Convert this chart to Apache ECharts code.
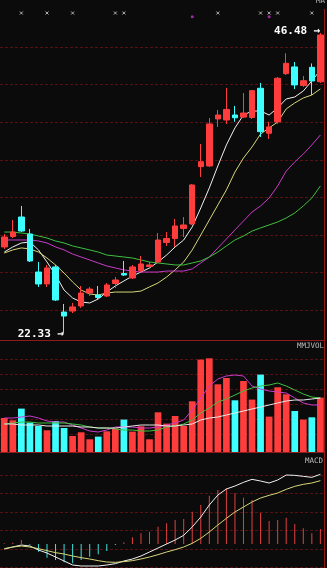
<!DOCTYPE html>
<html><head><meta charset="utf-8">
<script src="https://cdn.jsdelivr.net/npm/echarts@6/dist/echarts.min.js"></script>
<style>html,body{margin:0;padding:0;background:#0b0b0b;}#c{width:327px;height:568px;}</style>
</head><body><div id="c"></div>
<script>
const categories = ['1','2','3','4','5','6','7','8','9','10','11','12','13','14','15','16','17','18','19','20','21','22','23','24','25','26','27','28','29','30','31','32','33','34','35','36','37','38'];
// [open, close, low, high]
const ohlc = [
[29.26,30.06,29.10,30.30],[30.10,30.46,29.98,31.43],[31.67,30.54,30.46,32.56],[30.30,28.13,28.05,30.71],
[27.24,26.28,26.04,28.05],[26.28,27.57,26.04,27.81],[27.65,24.99,24.91,27.81],[24.02,23.70,22.33,24.67],
[24.10,24.43,23.94,24.75],[24.51,25.55,24.35,26.12],[25.55,25.87,25.31,26.04],[25.39,25.19,24.99,26.12],
[25.31,26.20,25.23,26.36],[26.32,26.60,25.96,26.84],[27.12,27.00,26.92,28.13],[26.76,27.65,26.68,27.81],
[27.36,27.89,27.24,28.53],[27.69,27.81,27.49,28.05],[28.05,29.82,27.97,30.38],[29.62,29.94,29.34,30.46],
[29.94,30.95,29.26,31.51],[30.75,31.03,30.06,31.67],[31.11,34.25,31.03,34.33],[35.72,36.12,34.89,37.55],
[35.78,39.16,35.70,39.64],[39.56,39.88,38.92,40.29],[39.48,40.33,39.16,42.06],[39.88,39.66,39.34,40.61],
[39.71,40.04,39.64,41.65],[39.68,41.84,39.56,41.90],[42.03,38.54,38.11,42.46],[38.41,38.92,37.95,39.34],
[39.32,42.84,39.16,42.94],[43.21,44.04,43.10,44.85],[43.75,42.30,41.97,44.15],[42.26,42.64,42.14,43.02],
[43.72,42.62,41.49,44.03],[42.56,46.32,42.46,46.48]
];
const ma5  = [28.85,29.26,29.58,29.66,29.02,28.05,27.00,25.79,25.15,24.83,24.75,25.07,25.63,26.12,26.52,26.92,27.24,27.57,28.05,28.61,29.26,29.82,30.87,32.40,34.01,35.78,37.47,38.84,39.88,40.20,40.20,39.88,40.45,41.17,41.33,41.81,42.62,43.50];
const ma10 = [28.77,29.02,29.18,29.10,28.85,28.37,27.81,27.16,26.44,25.79,25.47,25.39,25.55,25.63,25.63,25.63,25.71,26.04,26.36,26.84,27.41,28.05,29.02,30.22,31.43,32.64,33.85,35.29,36.42,37.31,38.35,38.84,39.32,40.37,40.85,41.25,41.49,41.98];
const ma20 = [29.82,29.82,29.82,29.82,29.74,29.58,29.26,29.02,28.69,28.45,28.21,27.97,27.73,27.57,27.41,27.32,27.24,27.24,27.24,27.32,27.32,27.32,27.49,27.97,28.45,29.18,29.90,30.63,31.35,32.07,32.56,33.20,34.17,35.37,36.10,36.74,37.47,38.27];
const ma30 = [30.46,30.46,30.38,30.30,30.14,29.98,29.74,29.58,29.34,29.18,29.02,28.85,28.61,28.53,28.45,28.37,28.21,28.05,27.97,27.89,27.81,27.81,27.97,28.13,28.45,28.85,29.34,29.82,30.14,30.54,30.79,31.03,31.27,31.59,31.99,32.56,33.20,34.17];
const signalIdx = [2,5,8,13,14,25,30,31,32,36];
const signalLevel = 48.09;
const purpleIdx = [22,31];
const purpleLevel = 47.79;
const volume = [34000,31700,43400,29400,26000,21700,31000,24000,16000,19700,12700,15400,20700,23400,32400,20400,25700,12700,39700,28400,36000,26000,50700,92400,93700,67700,74000,51700,71000,52400,77400,35400,64700,57700,41000,32400,34700,54400];
const volMaA = [34000,34000,35000,36000,34000,31000,30000,30000,27000,24000,21000,20000,22000,25000,25000,25000,24000,24000,25000,27000,29000,32000,42000,54000,66000,73000,76000,77000,76000,66000,63000,61000,60000,59000,54000,49000,47000,47000];
const volMaB = [28000,29000,30000,30000,29000,29000,29000,29000,28000,27000,25000,24000,24000,23000,22000,22000,21000,21000,22000,25000,26000,28000,32000,39000,44000,50000,53000,57000,61000,64000,66000,67000,69000,66000,62000,58000,55000,54000];
const volMaC = [28000,28000,27000,27000,27000,26000,26000,26000,26000,25000,25000,24000,24000,24000,25000,26000,27000,27000,27000,26000,26000,27000,28000,32000,34000,35000,37000,39000,41000,43000,45000,47000,49000,51000,52000,52000,53000,54000];
const macdHist = [0.02,0.04,0.12,-0.02,-0.23,-0.41,-0.48,-0.55,-0.58,-0.48,-0.38,-0.31,-0.21,-0.03,0.05,0.20,0.32,0.37,0.52,0.62,0.72,0.75,0.97,1.17,1.45,1.62,1.67,1.52,1.39,1.32,0.94,0.69,0.72,0.79,0.60,0.47,0.32,0.45];
const dif = [-0.15,-0.09,-0.03,-0.06,-0.18,-0.27,-0.39,-0.51,-0.63,-0.66,-0.66,-0.66,-0.63,-0.59,-0.51,-0.45,-0.36,-0.24,-0.12,0.00,0.12,0.26,0.51,0.81,1.17,1.47,1.65,1.74,1.85,1.94,1.89,1.83,1.92,2.07,2.06,2.03,2.00,2.09];
const dea = [-0.14,-0.09,-0.06,-0.09,-0.14,-0.20,-0.26,-0.30,-0.36,-0.41,-0.45,-0.50,-0.54,-0.55,-0.53,-0.50,-0.45,-0.39,-0.32,-0.24,-0.17,-0.09,0.02,0.17,0.36,0.57,0.77,0.96,1.11,1.26,1.38,1.46,1.53,1.64,1.73,1.79,1.83,1.90];

const RED = '#ff3d3d', CYAN = '#3dffff';
const GRIDC = '#561212', BORDER = '#8e1c1c';
const chart = echarts.init(document.getElementById('c'));

function xAx(g, showLine){
  return {type:'category', gridIndex:g, data:categories, boundaryGap:true,
    axisLine:{show:showLine, onZero:false, lineStyle:{color:BORDER, width:1}}, axisTick:{show:false}, axisLabel:{show:false}, splitLine:{show:false}};
}
function valAx(g, min, max){
  return {type:'value', gridIndex:g, min:min, max:max, position:'right',
    axisLine:{show:true, onZero:false, lineStyle:{color:BORDER, width:1}}, axisTick:{show:false}, axisLabel:{show:false}, splitLine:{show:false}};
}
function gridAx(g, max){
  return {type:'value', gridIndex:g, inverse:true, min:0, max:max, interval:1, position:'left',
    axisLine:{show:false, onZero:false}, axisTick:{show:false}, axisLabel:{show:false},
    splitLine:{show:true, showMinLine:false, showMaxLine:false, lineStyle:{color:GRIDC, type:[3,2], width:1}}};
}
function line(name, data, color, xi, yi){
  return {name:name, type:'line', data:data, xAxisIndex:xi, yAxisIndex:yi, symbol:'none', smooth:false,
    lineStyle:{color:color, width:1}, z:5, silent:true};
}
const lblStyle = {show:true, position:'left', distance:0, color:'#ffffff', fontFamily:'DejaVu Sans Mono', fontWeight:'bold', fontSize:11};

const option = {
  backgroundColor:'#0b0b0b',
  animation:false,
  grid:[
    {left:-6.05, right:2.35, top:9.4, height:330.6},
    {left:-6.05, right:2.35, top:340, height:112},
    {left:-6.05, right:2.35, top:452, height:116},
    {left:-6.05, right:2.35, top:344, height:108},
    {left:-6.05, right:2.35, top:456.5, height:111.5}
  ],
  xAxis:[xAx(0,true), xAx(1,true), xAx(2,false), xAx(3,false), xAx(4,false)],
  yAxis:[
    valAx(0, 21.77, 48.38), gridAx(0, 330.6/37.6),
    valAx(1, 0, 112000), gridAx(3, 108/15),
    valAx(2, -0.72, 2.76), gridAx(4, 111.5/18.5)
  ],
  series:[
    {type:'candlestick', name:'K', data:ohlc.map(d=>d), xAxisIndex:0, yAxisIndex:0, barWidth:6,
      itemStyle:{color:RED, color0:CYAN, borderColor:RED, borderColor0:CYAN, borderWidth:1}, z:6,
      markPoint:{symbol:'circle', symbolSize:0, silent:true, animation:false,
        data:[
          {type:'max', valueDim:'highest', label:Object.assign({}, lblStyle, {formatter:p=>p.value.toFixed(2)+' →', offset:[0,-2]})},
          {type:'min', valueDim:'lowest', label:Object.assign({}, lblStyle, {formatter:p=>p.value.toFixed(2)+' →', offset:[0,1]})}
        ]}},
    line('MA5', ma5, '#f0f0f0', 0, 0),
    line('MA10', ma10, '#d6d67a', 0, 0),
    line('MA20', ma20, '#c93ac9', 0, 0),
    line('MA30', ma30, '#3fbf3f', 0, 0),
    {type:'scatter', name:'sig', xAxisIndex:0, yAxisIndex:0, data:signalIdx.map(i=>[i, signalLevel]),
      symbol:'path://M0,0L10,10M10,0L0,10', symbolSize:3,
      itemStyle:{color:'none', borderColor:'#d8d8d8', borderWidth:1}, silent:true},
    {type:'scatter', name:'sig2', xAxisIndex:0, yAxisIndex:0, data:purpleIdx.map(i=>[i, purpleLevel]),
      symbol:'circle', symbolSize:3, itemStyle:{color:'#c832c8'}, silent:true},
    {type:'bar', name:'VOL', xAxisIndex:1, yAxisIndex:2, barWidth:6.7,
      data:volume.map((v,i)=>({value:v, itemStyle:{color: ohlc[i][1]>=ohlc[i][0] ? RED : CYAN}})), z:3, silent:true},
    line('VMA1', volMaA, '#c93ac9', 1, 2),
    line('VMA2', volMaB, '#3fbf3f', 1, 2),
    line('VMA3', volMaC, '#e8e8e8', 1, 2),
    {type:'bar', name:'MACD', xAxisIndex:2, yAxisIndex:4, barWidth:1,
      data:macdHist.map(v=>({value:v, itemStyle:{color: v>=0 ? '#e04040' : '#40e0e0'}})), silent:true},
    line('DIF', dif, '#f0f0f0', 2, 4),
    line('DEA', dea, '#d6d67a', 2, 4)
  ],
  graphic:[
    {type:'text', right:2, top:-3, style:{text:'MA', fill:'#bdbdbd', font:'7.5px "DejaVu Sans Mono"'}},
    {type:'text', right:3, top:342, style:{text:'MMJVOL', fill:'#bdbdbd', font:'7.5px "DejaVu Sans Mono"'}},
    {type:'text', right:4, top:457, style:{text:'MACD', fill:'#bdbdbd', font:'7.5px "DejaVu Sans Mono"'}}
  ]
};
chart.setOption(option);
</script></body></html>
